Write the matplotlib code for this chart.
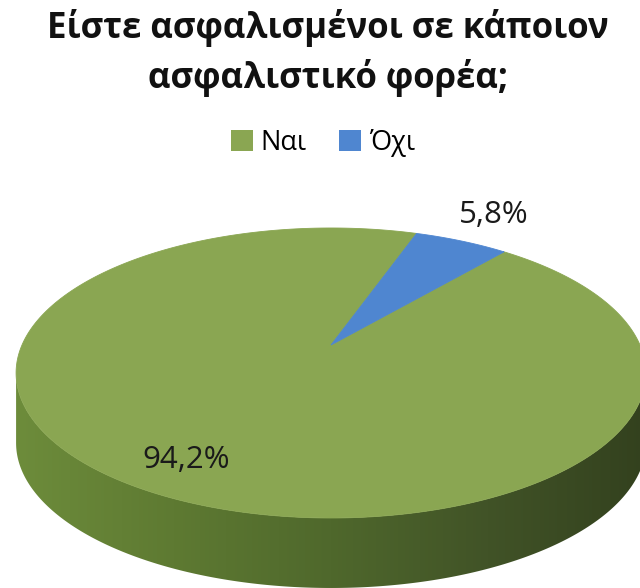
import numpy as np
import matplotlib.pyplot as plt
from matplotlib.patches import Polygon, Patch
from matplotlib.colors import LinearSegmentedColormap

plt.rcParams['font.family'] = ['Open Sans', 'DejaVu Sans']

# Data
labels = ['Ναι', 'Όχι']
shares = [94.2, 5.8]
value_labels = ['94,2%', '5,8%']
colors = ['#8aa652', '#4f86d0']
title_lines = ['Είστε ασφαλισμένοι σε κάποιον', 'ασφαλιστικό φορέα;']

# 3D pie geometry (pixel space, y down)
first_angle = 40.0      # degrees clockwise from 12 o'clock
cx, cy = 331, 345       # projected centre of the disc
sx, sy = 309, 139.6     # horizontal / vertical scale
k = 0.193               # perspective factor (far edge smaller)
depth = 70              # thickness of the disc


def project(t, r=1.0):
    # t: clockwise angle from top in degrees
    a = np.deg2rad(t)
    X = r * np.sin(a)
    Y = r * np.cos(a)
    w = 1 + k * Y
    return cx + sx * X / w, cy - sy * Y / w


fig = plt.figure(figsize=(6.4, 5.88), dpi=100)
ax = fig.add_axes([0, 0, 1, 1])
ax.set_xlim(0, 640)
ax.set_ylim(588, 0)
ax.axis('off')

# outline of the top face, used to find the silhouette
tt = np.linspace(0, 360, 3601)
ex, ey = project(tt)
t_left = tt[np.argmin(ex)]
t_right = tt[np.argmax(ex)]

# side wall: front arc from right silhouette point to left one
front = np.linspace(t_right, t_left, 600)
fx, fy = project(front)
side_x = np.concatenate([fx, fx[::-1]])
side_y = np.concatenate([fy, fy[::-1] + depth])
side = Polygon(np.column_stack([side_x, side_y]), closed=True,
               facecolor='none', edgecolor='none')
ax.add_patch(side)

side_cmap = LinearSegmentedColormap.from_list(
    'side', ['#6d8c3b', '#5e7a32', '#4f682c', '#415327', '#33411e'])
grad = np.linspace(0, 1, 256).reshape(1, -1)
img = ax.imshow(grad, cmap=side_cmap, aspect='auto',
                extent=[fx.min(), fx.max(), fy.max() + depth, fy.min()],
                zorder=1)
img.set_clip_path(side)

# top face wedges
angle = first_angle
for share, color in zip(shares, colors):
    span = share / sum(shares) * 360
    arc = np.linspace(angle, angle + span, max(int(span * 4), 8))
    px, py = project(arc)
    verts = np.column_stack([np.r_[cx, px], np.r_[cy, py]])
    ax.add_patch(Polygon(verts, closed=True, facecolor=color,
                         edgecolor=color, linewidth=0.6, zorder=2))
    angle += span

# value labels
angle = first_angle
label_r = [0.82, 1.3]
for share, text, r in zip(shares, value_labels, label_r):
    span = share / sum(shares) * 360
    lx, ly = project(angle + span / 2, r)
    ax.text(lx, ly, text, ha='center', va='center', fontsize=22.5,
            color='#1a1a1a', zorder=3)
    angle += span

for line, base in zip(title_lines, [38, 88]):
    ax.text(328, base, line, ha='center', va='baseline', fontsize=25,
            fontweight='bold', color='#111111')

handles = [Patch(facecolor=c, edgecolor='none') for c in colors]
fig.legend(handles, labels, loc='center', bbox_to_anchor=(0.505, 1 - 143 / 588),
           ncol=2, frameon=False, fontsize=19.5, handlelength=0.8,
           handleheight=0.8, handletextpad=0.3, columnspacing=1.2)

fig.savefig('out.png', dpi=100, facecolor='white')
